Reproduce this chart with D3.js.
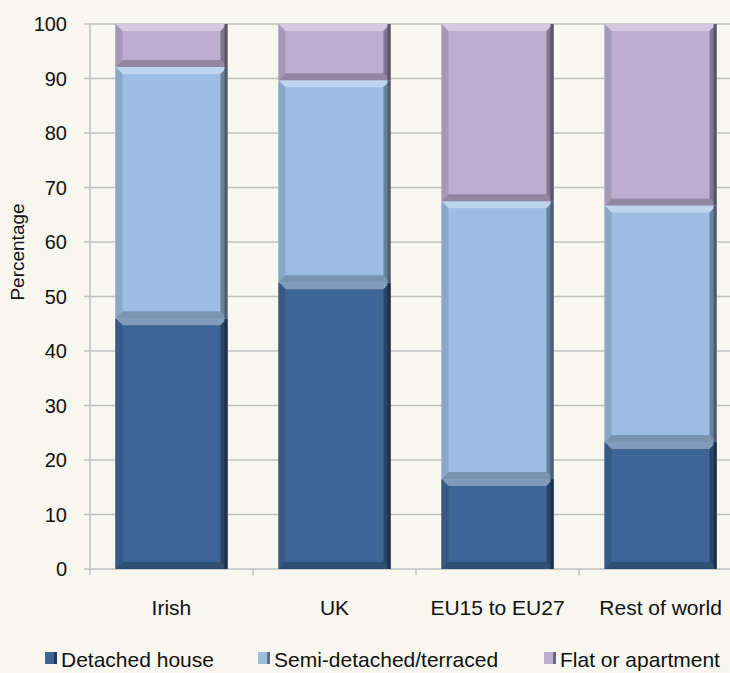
<!DOCTYPE html>
<html>
<head>
<meta charset="utf-8">
<script src="https://cdn.jsdelivr.net/npm/d3@7"></script>
<style>
  body { margin: 0; background: #f7f7f0; overflow: hidden; }
  svg { display: block; font-family: "Liberation Sans", Arial, sans-serif; }
</style>
</head>
<body>
<svg id="chart" width="730" height="673"></svg>
<script>
// chart data
const categories = ["Irish", "UK", "EU15 to EU27", "Rest of world"];
const seriesNames = ["Detached house", "Semi-detached/terraced", "Flat or apartment"];
const detached = [46, 52.6, 16.5, 23.3];
const semiDetached = [46.1, 37.1, 51, 43.4];
const flat = [7.9, 10.3, 32.5, 33.3];
const yTicks = [0, 10, 20, 30, 40, 50, 60, 70, 80, 90, 100];

const colors = ["#3e6595", "#9dbde3", "#bcadd1"];

const svg = d3.select("#chart");
const margin = {top: 24, left: 90, bottom: 104};
const width = 652, height = 673 - margin.top - margin.bottom;

const g = svg.append("g").attr("transform", `translate(${margin.left},${margin.top})`);

const x = d3.scaleBand().domain(categories).range([0, width]).paddingInner(0.313).paddingOuter(0.156);
const y = d3.scaleLinear().domain([0, 100]).range([height, 0]);

// gridlines
g.selectAll(".grid")
  .data(yTicks)
  .join("line")
    .attr("x1", -6).attr("x2", width)
    .attr("y1", d => y(d)).attr("y2", d => y(d))
    .attr("stroke", "#c0c0c0").attr("stroke-width", 1.5);

// y axis line
g.append("line")
  .attr("x1", 0).attr("x2", 0).attr("y1", 0).attr("y2", height)
  .attr("stroke", "#c0c0c0").attr("stroke-width", 1.5);

// x tick marks between categories
const bandStep = x.step();
g.selectAll(".xtick")
  .data(d3.range(categories.length + 1))
  .join("line")
    .attr("x1", i => i * bandStep).attr("x2", i => i * bandStep)
    .attr("y1", height).attr("y2", height + 6)
    .attr("stroke", "#c0c0c0").attr("stroke-width", 1.5);

// y tick labels
g.selectAll(".ylab")
  .data(yTicks)
  .join("text")
    .attr("x", -23).attr("y", d => y(d)).attr("dy", "0.36em")
    .attr("text-anchor", "end").attr("font-size", 20).attr("fill", "#111")
    .text(d => d);

// stacked data
const rows = categories.map((c, i) => ({cat: c, s0: detached[i], s1: semiDetached[i], s2: flat[i]}));
const stack = d3.stack().keys(["s0", "s1", "s2"])(rows);

// beveled segments
const bev = 7;
function drawSegment(sel, d, color) {
  const x0 = x(d.data.cat), x1 = x0 + x.bandwidth();
  const yTop = y(d[1]), yBot = y(d[0]);
  const c = d3.color(color);
  sel.append("rect")
    .attr("x", x0).attr("y", yTop).attr("width", x1 - x0).attr("height", yBot - yTop)
    .attr("fill", color);
  const b = Math.min(bev, (yBot - yTop) / 2);
  // top
  sel.append("polygon")
    .attr("points", [[x0, yTop], [x1, yTop], [x1 - b, yTop + b], [x0 + b, yTop + b]].join(" "))
    .attr("fill", d3.interpolateRgb(color, "#ffffff")(0.35));
  // left
  sel.append("polygon")
    .attr("points", [[x0, yTop], [x0 + b, yTop + b], [x0 + b, yBot - b], [x0, yBot]].join(" "))
    .attr("fill", c.darker(0.35));
  // bottom
  sel.append("polygon")
    .attr("points", [[x0, yBot], [x0 + b, yBot - b], [x1 - b, yBot - b], [x1, yBot]].join(" "))
    .attr("fill", c.darker(0.7));
  // right
  sel.append("polygon")
    .attr("points", [[x1, yTop], [x1 - b, yTop + b], [x1 - b, yBot - b], [x1, yBot]].join(" "))
    .attr("fill", c.darker(1.1));
  sel.append("rect")
    .attr("x", x1 - 3).attr("y", yTop).attr("width", 3).attr("height", yBot - yTop)
    .attr("fill", c.darker(2));
}

stack.forEach((layer, li) => {
  const lg = g.append("g");
  layer.forEach(d => drawSegment(lg, d, colors[li]));
});

// x labels
g.selectAll(".xlab")
  .data(categories)
  .join("text")
    .attr("x", d => x(d) + x.bandwidth() / 2).attr("y", height + 46)
    .attr("text-anchor", "middle").attr("font-size", 21).attr("fill", "#111")
    .text(d => d);

// y axis title
svg.append("text")
  .attr("transform", "translate(24,252) rotate(-90)")
  .attr("text-anchor", "middle").attr("font-size", 19).attr("fill", "#111")
  .text("Percentage");

// legend
const legendX = [45, 258, 544];
const legend = svg.selectAll(".leg")
  .data(seriesNames)
  .join("g")
    .attr("transform", (d, i) => `translate(${legendX[i]},667)`);
legend.append("rect")
  .attr("x", 0).attr("y", -15).attr("width", 12).attr("height", 12)
  .attr("fill", (d, i) => colors[i]);
legend.append("rect")
  .attr("x", 9).attr("y", -15).attr("width", 3).attr("height", 12)
  .attr("fill", (d, i) => d3.color(colors[i]).darker(1.5));
legend.append("text")
  .attr("x", 16).attr("y", 0)
  .attr("font-size", 21).attr("fill", "#111")
  .text(d => d);
</script>
</body>
</html>
